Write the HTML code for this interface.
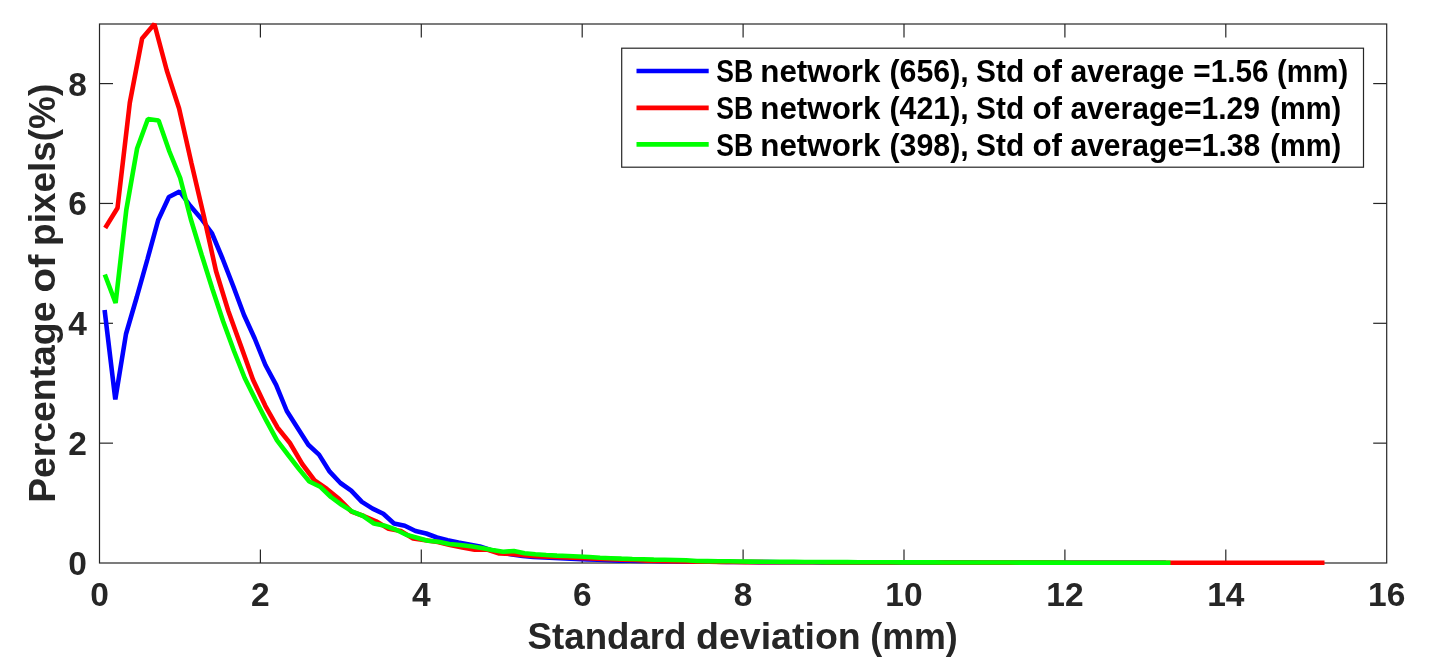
<!DOCTYPE html>
<html><head><meta charset="utf-8"><style>
html,body{margin:0;padding:0;background:#fff;}
body{width:1430px;height:669px;overflow:hidden;}
svg{display:block;filter:blur(0.45px);}
text{font-family:"Liberation Sans",sans-serif;font-weight:bold;}
</style></head><body>
<svg width="1430" height="669" viewBox="0 0 1430 669">
<rect x="0" y="0" width="1430" height="669" fill="#fff"/>
<g stroke="#262626" stroke-width="1.2" fill="none">
<rect x="99.5" y="24.0" width="1287.2" height="539.0"/>
<line x1="260.40" y1="563.0" x2="260.40" y2="549.5"/><line x1="260.40" y1="24.0" x2="260.40" y2="37.5"/><line x1="421.30" y1="563.0" x2="421.30" y2="549.5"/><line x1="421.30" y1="24.0" x2="421.30" y2="37.5"/><line x1="582.20" y1="563.0" x2="582.20" y2="549.5"/><line x1="582.20" y1="24.0" x2="582.20" y2="37.5"/><line x1="743.10" y1="563.0" x2="743.10" y2="549.5"/><line x1="743.10" y1="24.0" x2="743.10" y2="37.5"/><line x1="904.00" y1="563.0" x2="904.00" y2="549.5"/><line x1="904.00" y1="24.0" x2="904.00" y2="37.5"/><line x1="1064.90" y1="563.0" x2="1064.90" y2="549.5"/><line x1="1064.90" y1="24.0" x2="1064.90" y2="37.5"/><line x1="1225.80" y1="563.0" x2="1225.80" y2="549.5"/><line x1="1225.80" y1="24.0" x2="1225.80" y2="37.5"/><line x1="99.5" y1="443.15" x2="113.0" y2="443.15"/><line x1="1386.7" y1="443.15" x2="1373.2" y2="443.15"/><line x1="99.5" y1="323.30" x2="113.0" y2="323.30"/><line x1="1386.7" y1="323.30" x2="1373.2" y2="323.30"/><line x1="99.5" y1="203.45" x2="113.0" y2="203.45"/><line x1="1386.7" y1="203.45" x2="1373.2" y2="203.45"/><line x1="99.5" y1="83.60" x2="113.0" y2="83.60"/><line x1="1386.7" y1="83.60" x2="1373.2" y2="83.60"/>
</g>
<g fill="#262626" font-size="33.5">
<text x="99.50" y="606" text-anchor="middle">0</text><text x="260.40" y="606" text-anchor="middle">2</text><text x="421.30" y="606" text-anchor="middle">4</text><text x="582.20" y="606" text-anchor="middle">6</text><text x="743.10" y="606" text-anchor="middle">8</text><text x="904.00" y="606" text-anchor="middle">10</text><text x="1064.90" y="606" text-anchor="middle">12</text><text x="1225.80" y="606" text-anchor="middle">14</text><text x="1386.70" y="606" text-anchor="middle">16</text>
<text x="87" y="575.00" text-anchor="end">0</text><text x="87" y="455.15" text-anchor="end">2</text><text x="87" y="335.30" text-anchor="end">4</text><text x="87" y="215.45" text-anchor="end">6</text><text x="87" y="95.60" text-anchor="end">8</text>
</g>
<g font-size="37" fill="#262626">
<text x="527.61" y="649.4" font-size="37.4" textLength="158.83" lengthAdjust="spacingAndGlyphs">Standard</text><text x="695.99" y="649.4" font-size="37.4" textLength="164.77" lengthAdjust="spacingAndGlyphs">deviation</text><text x="870.26" y="649.4" font-size="37.4" textLength="87.54" lengthAdjust="spacingAndGlyphs">(mm)</text>
</g>
<g transform="rotate(-90)" fill="#262626">
<text x="-502.82" y="55.2" font-size="37.4" textLength="201.23" lengthAdjust="spacingAndGlyphs">Percentage</text><text x="-292.58" y="55.2" font-size="37.4" textLength="37.81" lengthAdjust="spacingAndGlyphs">of</text><text x="-245.90" y="55.2" font-size="37.4" textLength="162.13" lengthAdjust="spacingAndGlyphs">pixels(%)</text>
</g>
<g fill="none" stroke-width="4.6" stroke-linejoin="bevel" stroke-linecap="butt">
<polyline stroke="#0000ff" points="104.6,310.0 115.3,399.5 126.0,334.0 136.8,297.0 147.5,259.0 158.2,220.0 168.9,197.0 179.6,191.5 190.4,206.0 201.1,218.5 211.8,233.0 222.5,258.5 233.2,286.0 244.0,315.0 254.7,338.5 265.4,365.0 276.1,384.8 286.8,411.0 297.6,428.0 308.3,444.8 319.0,454.6 329.7,471.7 340.4,483.0 351.2,490.6 361.9,501.9 372.6,508.6 383.3,513.8 394.0,523.5 404.8,525.8 415.5,531.0 426.2,533.5 436.9,537.5 447.6,540.3 458.4,542.5 469.1,544.5 479.8,546.5 490.5,550.0 501.2,552.5 512.0,554.5 522.7,556.0 533.4,557.0 544.1,557.5 554.8,558.0 565.6,558.5 576.3,559.0 587.0,559.5 597.7,559.8 608.4,560.1 619.2,560.6 629.9,560.7 640.6,560.9 651.3,561.0 662.0,561.2 672.8,561.3 683.5,561.4 694.2,561.5 704.9,561.7 715.6,561.8 726.4,561.9 737.1,562.0 747.8,562.0 758.5,562.1 769.2,562.1 780.0,562.2 790.7,562.2 801.4,562.3 812.1,562.3 822.8,562.4 833.6,562.4 844.3,562.4 855.0,562.5 865.7,562.5 876.4,562.5 887.2,562.5 897.9,562.6 908.6,562.6 919.3,562.6 930.0,562.6 940.8,562.6 951.5,562.6 962.2,562.6 972.9,562.6 983.6,562.7 994.4,562.7 1005.1,562.7 1015.8,562.7 1026.5,562.7 1037.2,562.7 1048.0,562.7 1058.7,562.7 1069.4,562.7 1080.1,562.7 1090.8,562.7 1101.6,562.8 1112.3,562.8 1123.0,562.8 1133.7,562.8 1144.4,562.8 1155.2,562.8 1165.9,562.8"/>
<polyline stroke="#ff0000" points="105.2,228.0 117.5,208.0 129.8,102.7 142.1,38.5 154.4,24.0 166.8,70.5 179.1,108.5 191.4,163.0 203.7,215.5 216.0,271.0 228.3,311.0 240.7,345.4 253.0,379.7 265.3,405.8 277.6,427.7 289.9,443.0 302.2,464.0 314.6,480.5 326.9,489.0 339.2,499.0 351.5,511.6 363.8,516.0 376.1,521.3 388.5,528.8 400.8,531.0 413.1,538.5 425.4,540.3 437.7,542.0 450.0,545.0 462.4,547.5 474.7,549.8 487.0,549.5 499.3,553.5 511.6,554.0 523.9,555.3 536.3,556.3 548.6,556.8 560.9,557.3 573.2,557.8 585.5,558.3 597.8,558.8 610.2,559.2 622.5,559.6 634.8,560.0 647.1,560.8 659.4,561.0 671.7,561.2 684.1,561.4 696.4,561.6 708.7,561.7 721.0,561.9 733.3,562.0 745.6,562.1 758.0,562.1 770.3,562.2 782.6,562.2 794.9,562.2 807.2,562.3 819.5,562.3 831.9,562.4 844.2,562.4 856.5,562.4 868.8,562.4 881.1,562.5 893.4,562.5 905.8,562.5 918.1,562.5 930.4,562.5 942.7,562.6 955.0,562.6 967.3,562.6 979.7,562.6 992.0,562.6 1004.3,562.6 1016.6,562.6 1028.9,562.6 1041.2,562.6 1053.6,562.6 1065.9,562.7 1078.2,562.7 1090.5,562.7 1102.8,562.7 1115.1,562.7 1127.5,562.7 1139.8,562.7 1152.1,562.7 1164.4,562.7 1176.7,562.7 1189.0,562.7 1201.4,562.7 1213.7,562.7 1226.0,562.7 1238.3,562.8 1250.6,562.8 1262.9,562.8 1275.3,562.8 1287.6,562.8 1299.9,562.8 1312.2,562.8 1324.5,562.8"/>
<polyline stroke="#00ff00" points="104.8,274.5 115.6,303.0 126.3,210.0 137.1,148.5 147.9,119.0 158.6,120.5 169.4,151.5 180.2,178.0 190.9,219.5 201.7,255.0 212.4,289.0 223.2,321.5 234.0,351.0 244.7,378.0 255.5,399.8 266.3,420.7 277.0,440.4 287.8,454.5 298.6,468.5 309.3,481.5 320.1,486.7 330.9,497.0 341.6,504.8 352.4,511.6 363.2,516.0 373.9,523.5 384.7,525.8 395.5,529.5 406.2,534.7 417.0,537.7 427.8,540.8 438.5,541.8 449.3,544.0 460.0,545.0 470.8,546.3 481.6,548.0 492.3,550.0 503.1,551.8 513.9,551.0 524.6,553.2 535.4,554.2 546.2,555.0 556.9,555.6 567.7,556.0 578.5,556.5 589.2,557.0 600.0,557.8 610.8,558.2 621.5,558.6 632.3,559.0 643.0,559.3 653.8,559.6 664.6,559.8 675.3,560.0 686.1,560.2 696.9,561.0 707.6,561.1 718.4,561.2 729.2,561.3 739.9,561.5 750.7,561.6 761.5,561.7 772.2,561.8 783.0,561.9 793.8,561.9 804.5,562.0 815.3,562.0 826.1,562.1 836.8,562.1 847.6,562.1 858.4,562.2 869.1,562.2 879.9,562.3 890.6,562.3 901.4,562.4 912.2,562.4 922.9,562.4 933.7,562.4 944.5,562.5 955.2,562.5 966.0,562.5 976.8,562.5 987.5,562.5 998.3,562.5 1009.1,562.5 1019.8,562.6 1030.6,562.6 1041.4,562.6 1052.1,562.6 1062.9,562.6 1073.7,562.7 1084.4,562.7 1095.2,562.7 1105.9,562.7 1116.7,562.7 1127.5,562.7 1138.2,562.7 1149.0,562.7 1159.8,562.7 1170.5,562.7"/>
</g>
<rect x="621.7" y="48.2" width="741.8" height="119.0" fill="#fff" stroke="#262626" stroke-width="1.2"/>
<g stroke-width="4.7">
<line x1="636.5" y1="71.0" x2="708.7" y2="71.0" stroke="#0000ff"/>
<line x1="636.5" y1="107.8" x2="708.7" y2="107.8" stroke="#ff0000"/>
<line x1="636.5" y1="144.3" x2="708.7" y2="144.3" stroke="#00ff00"/>
</g>
<g fill="#000">
<text x="716.32" y="82.3" font-size="30.8" textLength="36.88" lengthAdjust="spacingAndGlyphs">SB</text><text x="760.31" y="82.3" font-size="30.8" textLength="120.12" lengthAdjust="spacingAndGlyphs">network</text><text x="889.49" y="82.3" font-size="30.8" textLength="79.20" lengthAdjust="spacingAndGlyphs">(656),</text><text x="976.10" y="82.3" font-size="30.8" textLength="48.12" lengthAdjust="spacingAndGlyphs">Std</text><text x="1032.45" y="82.3" font-size="30.8" textLength="29.64" lengthAdjust="spacingAndGlyphs">of</text><text x="1070.40" y="82.3" font-size="30.8" textLength="113.84" lengthAdjust="spacingAndGlyphs">average</text><text x="1193.31" y="82.3" font-size="30.8" textLength="75.31" lengthAdjust="spacingAndGlyphs">=1.56</text><text x="1277.03" y="82.3" font-size="30.8" textLength="71.07" lengthAdjust="spacingAndGlyphs">(mm)</text><text x="716.32" y="119.0" font-size="30.8" textLength="36.88" lengthAdjust="spacingAndGlyphs">SB</text><text x="760.31" y="119.0" font-size="30.8" textLength="120.12" lengthAdjust="spacingAndGlyphs">network</text><text x="889.49" y="119.0" font-size="30.8" textLength="79.20" lengthAdjust="spacingAndGlyphs">(421),</text><text x="976.10" y="119.0" font-size="30.8" textLength="48.12" lengthAdjust="spacingAndGlyphs">Std</text><text x="1032.45" y="119.0" font-size="30.8" textLength="29.64" lengthAdjust="spacingAndGlyphs">of</text><text x="1070.40" y="119.0" font-size="30.8" textLength="189.65" lengthAdjust="spacingAndGlyphs">average=1.29</text><text x="1270.33" y="119.0" font-size="30.8" textLength="70.86" lengthAdjust="spacingAndGlyphs">(mm)</text><text x="716.32" y="155.8" font-size="30.8" textLength="36.88" lengthAdjust="spacingAndGlyphs">SB</text><text x="760.31" y="155.8" font-size="30.8" textLength="120.12" lengthAdjust="spacingAndGlyphs">network</text><text x="889.49" y="155.8" font-size="30.8" textLength="79.20" lengthAdjust="spacingAndGlyphs">(398),</text><text x="976.10" y="155.8" font-size="30.8" textLength="48.12" lengthAdjust="spacingAndGlyphs">Std</text><text x="1032.45" y="155.8" font-size="30.8" textLength="29.64" lengthAdjust="spacingAndGlyphs">of</text><text x="1070.40" y="155.8" font-size="30.8" textLength="189.95" lengthAdjust="spacingAndGlyphs">average=1.38</text><text x="1270.33" y="155.8" font-size="30.8" textLength="70.86" lengthAdjust="spacingAndGlyphs">(mm)</text>
</g>
</svg>
</body></html>
